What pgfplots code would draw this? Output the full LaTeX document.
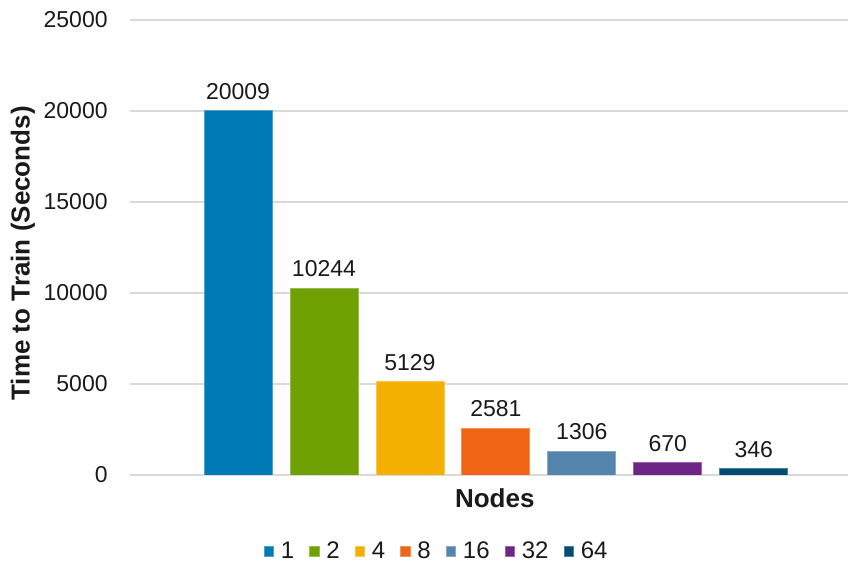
\documentclass[border=0pt]{standalone}
\usepackage{pgfplots}
\pgfplotsset{compat=1.18}
\usepackage{fontspec}
\setmainfont{Liberation Sans}
\definecolor{c1}{HTML}{0079B7}
\definecolor{c2}{HTML}{6FA103}
\definecolor{c3}{HTML}{F4B000}
\definecolor{c4}{HTML}{EF6415}
\definecolor{c5}{HTML}{5584AD}
\definecolor{c6}{HTML}{6F2585}
\definecolor{c7}{HTML}{004C72}
\definecolor{txt}{HTML}{1A1A1A}
\begin{document}
\begin{tikzpicture}
\useasboundingbox (-65pt,-45.5pt) rectangle (363pt,237.5pt);
\begin{axis}[
  scale only axis,
  width=359pt, height=227.5pt,
  xmin=-1.2566, xmax=7.097,
  ymin=0, ymax=25000,
  ytick={0,5000,10000,15000,20000,25000},
  xtick=\empty,
  scaled y ticks=false,
  axis line style={draw=none},
  major tick length=0pt,
  ymajorgrids,
  major grid style={draw=black!15, line width=0.7pt},
  /pgf/number format/.cd, fixed, precision=0, 1000 sep={}, assume math mode=true,
  /pgfplots/.cd,
  tick label style={font=\fontsize{11.5}{13}\selectfont, text=txt},
  yticklabel style={inner sep=0pt, xshift=-11pt, anchor=east},
  ylabel={Time to Train (Seconds)},
  ylabel style={at={(axis description cs:0,0.487)}, anchor=center, xshift=0pt, yshift=53.5pt, font=\fontsize{13}{15}\selectfont\bfseries, text=txt},
  xlabel={Nodes},
  xlabel style={at={(axis description cs:0.508,0)}, anchor=base, yshift=-16.5pt, font=\fontsize{13}{15}\selectfont\bfseries, text=txt},
  ybar, bar width=34pt, bar shift=0pt,
  nodes near coords,
  every node near coord/.append style={font=\fontsize{11.5}{13}\selectfont, text=txt, inner sep=0pt, anchor=south, yshift=5.5pt},
  legend columns=-1,
  legend style={at={(0.4276,-0.168)}, anchor=center, draw=none, fill=none,
    font=\fontsize{12}{14}\selectfont, text=txt,
    /tikz/every even column/.append style={column sep=6pt},
    nodes={inner sep=1.5pt}},
  legend image code/.code={\fill[#1] (0pt,-2.35pt) rectangle (4.7pt,2.35pt); \path (6.7pt,0pt);},
]
\addplot[fill=c1, draw=c1!70!white, line width=0.4pt] coordinates {(0,20009)};
\addplot[fill=c2, draw=c2!70!white, line width=0.4pt] coordinates {(1,10244)};
\addplot[fill=c3, draw=c3!70!white, line width=0.4pt] coordinates {(2,5129)};
\addplot[fill=c4, draw=c4!70!white, line width=0.4pt] coordinates {(3,2581)};
\addplot[fill=c5, draw=c5!70!white, line width=0.4pt] coordinates {(4,1306)};
\addplot[fill=c6, draw=c6!70!white, line width=0.4pt] coordinates {(5,670)};
\addplot[fill=c7, draw=c7!70!white, line width=0.4pt] coordinates {(6,346)};
\legend{1,2,4,8,16,32,64}
\end{axis}
\end{tikzpicture}
\end{document}
